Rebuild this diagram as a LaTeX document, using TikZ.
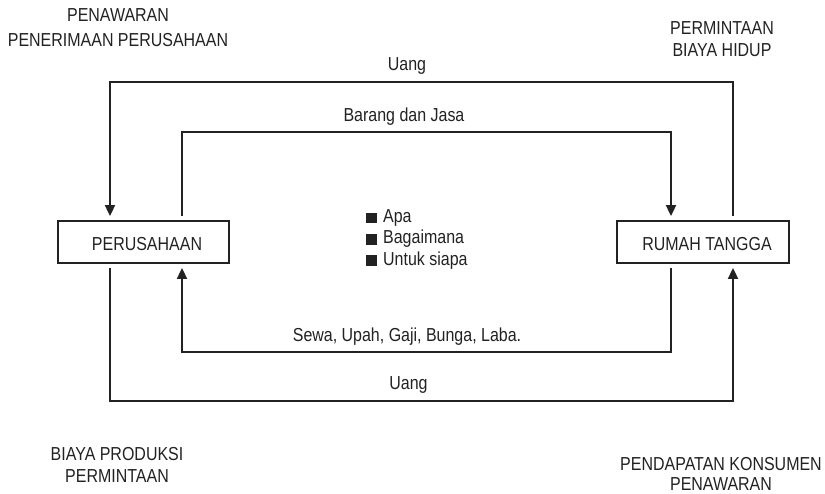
\documentclass[tikz,border=0pt]{standalone}
\usepackage{fontspec}
\setmainfont{Liberation Sans}[FakeStretch=0.85]
\usetikzlibrary{arrows.meta}
\definecolor{ink}{HTML}{222222}
\begin{document}
\begin{tikzpicture}[x=1pt,y=-1pt,
  txt/.style={font=\fontsize{18.8}{22}\selectfont, text=ink, inner sep=0pt, anchor=base},
  box/.style={draw=ink, line width=1.8pt, minimum height=42pt, inner sep=0pt},
  flow/.style={draw=ink, line width=1.8pt, shorten <=4pt, shorten >=4pt},
  arr/.style={-{Triangle[length=11pt,width=10pt]}},
  sq/.style={fill=ink, minimum size=10.5pt, inner sep=0pt}]
\useasboundingbox (0,0) rectangle (825,494);

% boxes
\node[box, minimum width=171pt] (firm) at (143.5,242) {};
\node[box, minimum width=172pt] (hh) at (703,242) {};
\node[txt] (firmlbl) at (147,251) {PERUSAHAAN};
\node[txt] (hhlbl) at (707,251) {RUMAH TANGGA};

% connector end points
\coordinate (fO) at ([xshift=-33.5pt]firm.north);
\coordinate (fI) at ([xshift=38.5pt]firm.north);
\coordinate (fOb) at ([xshift=-33.5pt]firm.south);
\coordinate (fIb) at ([xshift=38.5pt]firm.south);
\coordinate (hI) at ([xshift=-32pt]hh.north);
\coordinate (hO) at ([xshift=30pt]hh.north);
\coordinate (hIb) at ([xshift=-32pt]hh.south);
\coordinate (hOb) at ([xshift=30pt]hh.south);
\coordinate (yOT) at (0,82);
\coordinate (yIT) at (0,132);
\coordinate (yIB) at (0,352);
\coordinate (yOB) at (0,401);

% connectors
\draw[flow, arr] (hO) |- (yOT -| fO) -- (fO);
\draw[flow, arr] (fI) |- (yIT -| hI) -- (hI);
\draw[flow, arr] (hIb) |- (yIB -| fIb) -- (fIb);
\draw[flow, arr] (fOb) |- (yOB -| hOb) -- (hOb);

% flow labels
\node[txt] (uang1) at (407,71) {Uang};
\node[txt] (bj) at (404,121.7) {Barang dan Jasa};
\node[txt] (sewa) at (407,341.7) {Sewa, Upah, Gaji, Bunga, Laba.};
\node[txt] (uang2) at (408.5,390) {Uang};

% bullets
\node[sq] (s1) at (371.5,218) {};
\node[sq] (s2) at (371.5,239.5) {};
\node[sq] (s3) at (371.5,260.7) {};
\node[txt, anchor=base west] (q1) at (383,222.5) {Apa};
\node[txt, anchor=base west] (q2) at (383,244) {Bagaimana};
\node[txt, anchor=base west] (q3) at (383,265.5) {Untuk siapa};

% corner labels
\node[txt] (tl1) at (118,21.7) {PENAWARAN};
\node[txt] (tl2) at (118,46.7) {PENERIMAAN PERUSAHAAN};
\node[txt] (tr1) at (722,35) {PERMINTAAN};
\node[txt] (tr2) at (722,56.7) {BIAYA HIDUP};
\node[txt] (bl1) at (117,460.7) {BIAYA PRODUKSI};
\node[txt] (bl2) at (117,482.7) {PERMINTAAN};
\node[txt] (br1) at (721,470) {PENDAPATAN KONSUMEN};
\node[txt] (br2) at (721,490) {PENAWARAN};
\end{tikzpicture}
\end{document}
